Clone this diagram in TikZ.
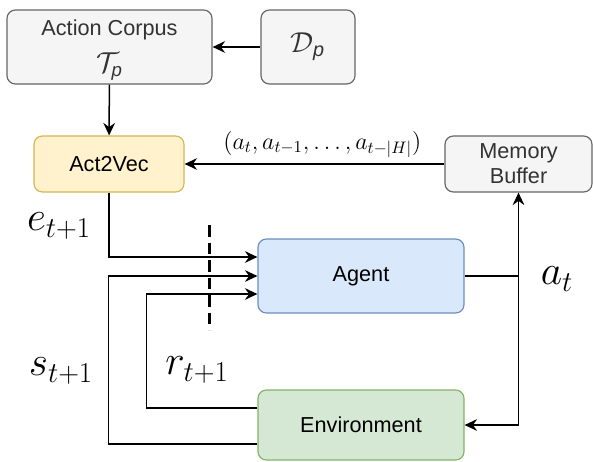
\documentclass[tikz,border=0pt]{standalone}
\usepackage{amsmath}
\usepackage{amssymb}
\usepackage{fontspec}
\setmainfont{Liberation Sans}
\usepackage{tikz}
\usetikzlibrary{arrows.meta}
\usetikzlibrary{calc}
\usetikzlibrary{positioning}
\definecolor{grayfill}{HTML}{F5F5F5}
\definecolor{graydraw}{HTML}{666666}
\definecolor{graytext}{HTML}{333333}
\definecolor{yellowfill}{HTML}{FFF2CC}
\definecolor{yellowdraw}{HTML}{D6B656}
\definecolor{bluefill}{HTML}{DAE8FC}
\definecolor{bluedraw}{HTML}{6C8EBF}
\definecolor{greenfill}{HTML}{D5E8D4}
\definecolor{greendraw}{HTML}{82B366}
\tikzset{box/.style = {draw, rounded corners = 5pt, line width = 0.7pt, align = center,
                       inner sep = 0, font = \fontsize{13}{15}\selectfont}}
\tikzset{graybox/.style = {box, fill = grayfill, draw = graydraw, text = graytext}}
\tikzset{flow/.style = {-{Stealth[length = 7.5pt, width = 7pt, inset = 2.5pt]},
                        line width = 0.9pt}}
\tikzset{biglabel/.style = {inner sep = 0, font = \fontsize{24}{28}\selectfont}}
\tikzset{cutline/.style = {line width = 1.8pt, dash pattern = on 7pt off 3.5pt}}

\begin{document}
\begin{tikzpicture}[x = 0.6pt, y = -0.6pt]
      \useasboundingbox (0, 0) rectangle (593, 461);
      \node [graybox, minimum width = 123pt, minimum height = 44.4pt] (corpus) at (109.5, 47)
            {\rule{0pt}{13pt}Action Corpus\\[7pt] {\fontsize{16}{18}\selectfont$\mathcal{T}_{\mathit{p}}$}};
      \node [graybox, minimum width = 56.4pt, minimum height = 44.4pt] (dp) at (308, 47)
            {\fontsize{17}{19}\selectfont$\mathcal{D}_{\mathit{p}}$};
      \node [box, fill = yellowfill, draw = yellowdraw, minimum width = 90pt,
             minimum height = 33.6pt] (act2vec) at (109, 164) {Act2Vec};
      \node [graybox, minimum width = 88.2pt, minimum height = 33.6pt] (memory) at (518.5, 164)
            {Memory\\Buffer};
      \node [box, fill = bluefill, draw = bluedraw, minimum width = 123.6pt,
             minimum height = 44.4pt] (agent) at (361, 276) {Agent};
      \node [box, fill = greenfill, draw = greendraw, minimum width = 123.6pt,
             minimum height = 42pt] (env) at (361, 425) {Environment};
      \node [biglabel] (elabel) at (59, 226) {$e_{t+1}$};
      \node [biglabel] (slabel) at (61, 371) {$s_{t+1}$};
      \node [biglabel] (rlabel) at (197, 370) {$r_{t+1}$};
      \node [biglabel] (alabel) at (557, 279) {$a_t$};
      \coordinate (cuttop) at (209, 225);
      \coordinate (cutbot) at (209, 330);
      \draw [flow] (dp) -- (corpus);
      \draw [flow] (corpus) -- (act2vec);
      \draw [flow] (memory) -- node [above = 0pt, pos = 0.47, font = \fontsize{14}{16}\selectfont]
            (tuple) {$(a_t, a_{t-1}, \ldots, a_{t-|H|})$} (act2vec);
      \draw [flow] (act2vec.south) |- ($(agent.west) + (0, -19)$);
      \draw [flow] ($(env.west) + (0, 19)$) -- ++(-149, 0) |- (agent.west);
      \draw [flow] ($(env.west) + (0, -17)$) -- ++(-111, 0) |- ($(agent.west) + (0, 18)$);
      \draw [flow] (agent.east) -| (memory.south);
      \draw [flow] (memory.south |- agent.east) |- (env.east);
      \draw [cutline] (cuttop) -- (cutbot);
    \end{tikzpicture}
\end{document}
